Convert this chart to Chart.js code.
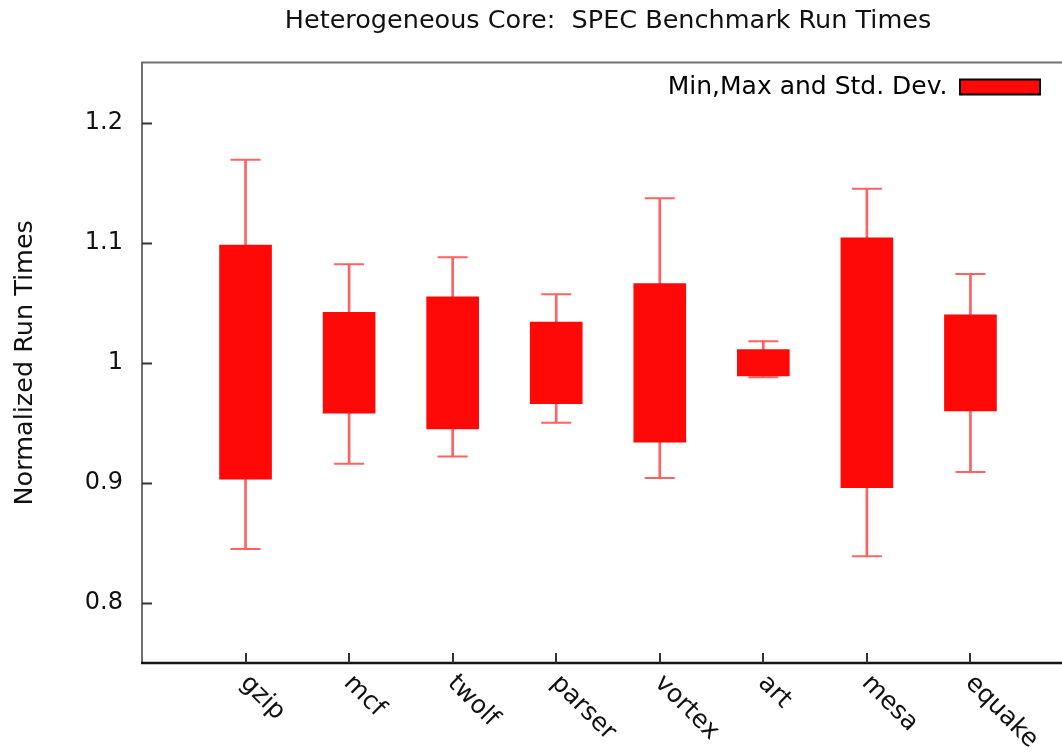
<!DOCTYPE html>
<html>
<head>
<meta charset="utf-8">
<script src="https://cdn.jsdelivr.net/npm/chart.js@4.4.0/dist/chart.umd.min.js"></script>
<style>
  html, body { margin: 0; padding: 0; background: #fff; overflow: hidden; }
  #wrap { width: 1091px; height: 752px; }
</style>
</head>
<body>
<div id="wrap"><canvas id="chart" width="1091" height="752" style="width:1091px;height:752px"></canvas></div>
<script>
const title = 'Heterogeneous Core:  SPEC Benchmark Run Times'
const yTitle = 'Normalized Run Times'
const legendLabel = 'Min,Max and Std. Dev.'

const benchmarks = ['gzip', 'mcf', 'twolf', 'parser', 'vortex', 'art', 'mesa', 'equake']
const minTimes = [0.845, 0.916, 0.922, 0.950, 0.904, 0.988, 0.839, 0.909]
const maxTimes = [1.169, 1.082, 1.088, 1.057, 1.137, 1.018, 1.145, 1.074]
const stdLow = [0.903, 0.958, 0.945, 0.966, 0.934, 0.989, 0.896, 0.960]
const stdHigh = [1.098, 1.042, 1.055, 1.034, 1.066, 1.011, 1.104, 1.040]
const yTicks = [0.8, 0.9, 1, 1.1, 1.2]

const xPos = benchmarks.map((_, i) => i + 1)

const font = 'DejaVu Sans'
const textColor = '#111'
const boxRed = '#ff0808'
const whiskerRed = '#ff6262'
const legendRight = 1040

// gnuplot style frame, inward ticks, slanted x labels
const frame = {
  id: 'frame',
  afterLayout(chart) {
    // legend sits inside the plot, right aligned
    const lg = chart.legend
    const pad = lg.options.labels.padding
    lg.left = legendRight + pad - lg.width
    lg.right = lg.left + lg.width
    lg.top = chart.chartArea.top
    lg.bottom = lg.top + lg.height
  },
  afterDatasetsDraw(chart) {
    const { ctx, chartArea: a, scales: { x, y } } = chart
    ctx.save()
    ctx.lineWidth = 2
    ctx.strokeStyle = '#707070'
    ctx.beginPath()
    ctx.moveTo(a.left, a.bottom)
    ctx.lineTo(a.left, a.top)
    ctx.lineTo(a.right, a.top)
    ctx.lineTo(a.right, a.bottom)
    ctx.stroke()
    ctx.strokeStyle = '#151515'
    ctx.lineWidth = 2.5
    ctx.beginPath()
    ctx.moveTo(a.left - 1, a.bottom)
    ctx.lineTo(a.right, a.bottom)
    ctx.stroke()

    ctx.lineWidth = 2
    ctx.strokeStyle = '#333'
    y.ticks.forEach(t => {
      const py = Math.round(y.getPixelForValue(t.value)) + 0.5
      ctx.beginPath()
      ctx.moveTo(a.left, py); ctx.lineTo(a.left + 10, py)
      ctx.moveTo(a.right - 10, py); ctx.lineTo(a.right, py)
      ctx.stroke()
    })
    x.ticks.forEach(t => {
      const px = Math.round(x.getPixelForValue(t.value))
      ctx.beginPath()
      ctx.moveTo(px, a.bottom); ctx.lineTo(px, a.bottom - 10)
      ctx.stroke()
    })

    ctx.font = `25px "${font}"`
    ctx.fillStyle = textColor
    ctx.textAlign = 'left'
    ctx.textBaseline = 'alphabetic'
    x.ticks.forEach(t => {
      const px = x.getPixelForValue(t.value)
      ctx.save()
      ctx.translate(px - 6, a.bottom + 21)
      ctx.rotate(Math.PI / 4)
      ctx.fillText(benchmarks[t.value - 1], 0, 0)
      ctx.restore()
    })
    ctx.restore()
  },
}

new Chart(document.getElementById('chart'), {
  type: 'bar',
  data: {
    datasets: [
      {
        label: legendLabel,
        data: xPos.map((x, i) => ({ x, y: [stdLow[i], stdHigh[i]] })),
        backgroundColor: boxRed,
        borderWidth: 0,
        barThickness: 52,
        grouped: false,
        order: 0,
      },
      {
        label: 'range',
        data: xPos.map((x, i) => ({ x, y: [minTimes[i], maxTimes[i]] })),
        backgroundColor: whiskerRed,
        borderWidth: 0,
        barThickness: 2,
        grouped: false,
        order: 2,
      },
      {
        type: 'scatter',
        label: 'caps',
        data: xPos.flatMap((x, i) => [{ x, y: minTimes[i] }, { x, y: maxTimes[i] }]),
        pointStyle: 'line',
        pointRadius: 15,
        pointBorderColor: whiskerRed,
        pointBorderWidth: 2,
        order: 1,
      },
    ],
  },
  options: {
    responsive: false,
    animation: false,
    layout: { padding: { left: 0, right: 6.5, top: 0, bottom: 0 } },
    scales: {
      x: {
        type: 'linear',
        min: 0,
        max: 9,
        offset: false,
        afterBuildTicks: s => { s.ticks = xPos.map(v => ({ value: v })) },
        afterFit: s => { s.height = 89 },
        ticks: { display: false },
        grid: { display: false, drawTicks: false, offset: false },
        border: { display: false },
      },
      y: {
        min: 0.75,
        max: 1.25,
        afterBuildTicks: s => { s.ticks = yTicks.map(v => ({ value: v })) },
        afterFit: s => { s.width = 142 },
        ticks: {
          padding: 19,
          color: textColor,
          font: { family: font, size: 24 },
          callback: v => String(v),
        },
        grid: { display: false, drawTicks: false },
        border: { display: false },
        title: {
          display: true,
          text: yTitle,
          color: textColor,
          font: { family: font, size: 25.5 },
          padding: { top: 10, bottom: 0 },
        },
      },
    },
    plugins: {
      title: {
        display: true,
        text: title,
        fullSize: false,
        color: textColor,
        font: { family: font, size: 25.5, weight: 'normal' },
        padding: { top: 6, bottom: 26 },
      },
      legend: {
        position: 'chartArea',
        align: 'start',
        rtl: true,
        labels: {
          boxWidth: 80,
          boxHeight: 15,
          padding: 12,
          color: textColor,
          font: { family: font, size: 25 },
          generateLabels: () => [{
            text: legendLabel,
            fillStyle: boxRed,
            strokeStyle: '#000',
            lineWidth: 2,
            hidden: false,
            datasetIndex: 0,
          }],
        },
      },
      tooltip: { enabled: false },
    },
  },
  plugins: [frame],
})
</script>
</body>
</html>
